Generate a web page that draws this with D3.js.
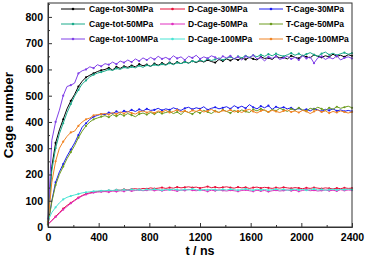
<!DOCTYPE html>
<html>
<head>
<meta charset="utf-8">
<script src="https://cdn.jsdelivr.net/npm/d3@7"></script>
<style>
  body { margin: 0; background: #fff; }
  text { font-family: "Liberation Sans", Arial, sans-serif; font-weight: bold; }
</style>
</head>
<body>
<script>
// time grid, one sample every 30 ns
var times = d3.range(0, 2401, 30);

var cageTot30 = [20,230,320,370,410,450,480,505,535,555,570,578,585,592,597,
  600,606,598,610,604,612,608,615,610,620,614,618,612,622,616,624,
  618,626,620,628,622,630,624,632,626,634,628,636,630,626,638,632,
  640,634,642,636,644,638,646,640,636,648,642,644,638,650,644,646,
  640,652,646,642,654,648,644,656,650,646,652,648,658,650,654,648,
  656,652];
var cageTot50 = [15,215,300,355,395,435,468,498,522,545,558,572,580,586,590,
  594,600,596,604,600,608,604,610,606,614,608,616,612,618,614,620,
  616,624,618,626,622,628,624,632,628,636,630,640,634,638,644,636,
  642,648,640,650,644,652,646,654,648,656,650,658,652,660,654,650,
  656,662,654,660,652,658,664,656,650,660,666,656,662,654,660,664,
  658,662];
var cageTot100 = [30,330,400,445,500,535,540,548,585,595,600,610,605,618,612,
  622,618,628,620,632,626,636,628,640,632,644,636,646,638,650,640,
  646,638,652,642,648,636,650,644,654,640,648,642,652,646,638,650,
  644,652,640,648,636,650,644,654,640,646,632,648,642,650,638,644,
  650,640,646,636,652,642,648,624,644,650,638,646,640,652,636,644,
  648,642];
var dCage30 = [10,25,40,55,70,82,92,102,112,120,126,130,133,135,137,
  136,139,138,141,140,143,141,144,146,143,147,145,149,146,148,150,
  147,150,148,152,149,151,153,150,152,148,151,154,150,152,149,151,
  153,150,148,152,149,151,147,150,152,148,151,149,147,150,148,151,
  149,147,150,148,146,149,147,150,148,146,149,147,145,148,146,149,
  147,148];
var dCage50 = [12,24,38,52,66,78,90,100,110,118,124,128,131,133,134,
  135,133,137,135,138,136,140,137,139,141,138,140,142,139,141,138,
  140,142,139,137,141,139,143,140,138,141,139,136,140,138,141,139,
  137,140,138,136,139,141,138,136,140,137,139,135,138,140,137,139,
  141,138,140,136,139,142,138,140,137,139,141,138,140,137,142,139,
  141,140];
var dCage100 = [25,55,75,92,105,113,118,122,126,130,132,134,136,137,138,
  138,140,139,141,140,142,140,143,141,142,140,143,141,144,142,140,
  143,141,144,142,140,143,141,145,142,140,143,141,144,142,140,143,
  141,144,142,140,143,145,142,140,144,141,143,140,142,144,141,143,
  140,142,144,141,143,140,142,145,141,143,140,142,144,141,143,142,
  144,142];
var tCage30 = [10,100,170,210,240,270,295,320,350,380,395,410,420,425,430,
  428,436,432,440,434,442,438,446,440,448,442,450,444,446,452,444,
  450,446,454,448,444,452,456,448,454,450,458,446,452,456,450,454,
  458,450,462,454,460,452,466,456,450,460,454,462,448,458,452,456,
  450,454,446,452,444,448,442,450,446,440,448,444,450,442,446,440,
  444,440];
var tCage50 = [10,95,160,200,230,260,285,310,340,365,385,400,410,415,420,
  424,418,428,422,430,424,432,426,420,430,434,428,436,430,438,432,
  436,440,432,438,428,442,436,430,440,434,444,438,432,442,436,446,
  440,434,444,438,446,440,436,448,442,450,444,438,448,442,452,446,
  440,450,444,454,446,442,452,448,456,450,444,454,448,458,452,456,
  460,454];
var tCage100 = [20,170,250,300,325,345,360,365,385,400,410,415,425,428,430,
  432,428,436,430,438,432,440,434,430,438,442,436,440,434,442,438,
  444,436,440,446,438,442,436,444,440,446,438,442,448,440,436,444,
  440,446,438,442,436,444,448,440,434,442,446,438,444,440,436,442,
  446,438,442,436,444,440,432,440,446,438,442,434,440,436,442,438,
  434,438];

var names = ['Cage-tot-30MPa','D-Cage-30MPa','T-Cage-30MPa',
             'Cage-tot-50MPa','D-Cage-50MPa','T-Cage-50MPa',
             'Cage-tot-100MPa','D-Cage-100MPa','T-Cage-100MPa'];
var values = [cageTot30, dCage30, tCage30, cageTot50, dCage50, tCage50, cageTot100, dCage100, tCage100];
var colors = ['#000000','#e8103a','#1c1cf0','#1aaa8a','#e030c0','#6c9c1e','#8040e8','#48e4d4','#f08424'];

var xTicks = [0,400,800,1200,1600,2000,2400];
var yTicks = [0,100,200,300,400,500,600,700,800];

var width = 366, height = 256;
var plotLeft = 48, plotRight = 352, plotTop = 3, plotBottom = 227;

var svg = d3.select('body').append('svg')
  .attr('width', width)
  .attr('height', height);

var x = d3.scaleLinear().domain([0, 2400]).range([plotLeft, plotRight]);
var y = d3.scaleLinear().domain([0, 853]).range([plotBottom, plotTop]);

var series = names.map(function(n, i) {
  return { name: n, color: colors[i], pts: values[i].map(function(v, j) { return [times[j], v]; }) };
});

var line = d3.line()
  .x(function(d) { return x(d[0]); })
  .y(function(d) { return y(d[1]); });

var plot = svg.append('g');
series.forEach(function(s) {
  plot.append('path')
    .attr('d', line(s.pts))
    .attr('fill', 'none')
    .attr('stroke', s.color)
    .attr('stroke-width', 1);
  plot.selectAll(null)
    .data(s.pts.filter(function(d, j) { return j % 2 == 0; }))
    .enter().append('circle')
    .attr('cx', function(d) { return x(d[0]); })
    .attr('cy', function(d) { return y(d[1]); })
    .attr('r', 1.1)
    .attr('fill', s.color);
});

// frame
svg.append('rect')
  .attr('x', plotLeft).attr('y', plotTop)
  .attr('width', plotRight - plotLeft).attr('height', plotBottom - plotTop)
  .attr('fill', 'none')
  .attr('stroke', '#333')
  .attr('stroke-width', 1);

// axes with inward ticks
svg.append('g')
  .attr('transform', 'translate(0,' + plotBottom + ')')
  .call(d3.axisBottom(x).tickValues(xTicks).tickSizeInner(-4).tickSizeOuter(0).tickPadding(7).tickFormat(d3.format('d')));
svg.append('g')
  .attr('transform', 'translate(0,' + plotBottom + ')')
  .call(d3.axisBottom(x).tickValues([200,600,1000,1400,1800,2200]).tickSizeInner(-2).tickSizeOuter(0).tickFormat(''));
svg.append('g')
  .attr('transform', 'translate(' + plotLeft + ',0)')
  .call(d3.axisLeft(y).tickValues(yTicks).tickSizeInner(-4).tickSizeOuter(0).tickPadding(5).tickFormat(d3.format('d')));
svg.append('g')
  .attr('transform', 'translate(' + plotLeft + ',0)')
  .call(d3.axisLeft(y).tickValues([50,150,250,350,450,550,650,750,850]).tickSizeInner(-2).tickSizeOuter(0).tickFormat(''));

svg.selectAll('.domain').attr('stroke', '#333');
svg.selectAll('.tick line').attr('stroke', '#333');
svg.selectAll('.tick text')
  .attr('font-size', 10.5)
  .attr('font-weight', 'bold')
  .attr('font-family', '"Liberation Sans", Arial, sans-serif')
  .attr('fill', '#000');

svg.append('text')
  .attr('x', 200).attr('y', 254.5)
  .attr('text-anchor', 'middle')
  .attr('font-size', 12.5)
  .text('t / ns');

svg.append('text')
  .attr('transform', 'translate(12.5,115) rotate(-90)')
  .attr('text-anchor', 'middle')
  .attr('font-size', 13.5)
  .text('Cage number');

// legend, three columns
var colLine = [[61, 85], [160, 185], [259, 283]];
var colText = [89, 188, 286];
var rowY = [9, 24, 39];
series.forEach(function(s, i) {
  var row = Math.floor(i / 3), col = i % 3;
  var g = svg.append('g');
  g.append('line')
    .attr('x1', colLine[col][0]).attr('x2', colLine[col][1])
    .attr('y1', rowY[row]).attr('y2', rowY[row])
    .attr('stroke', s.color).attr('stroke-width', 1);
  g.append('circle')
    .attr('cx', (colLine[col][0] + colLine[col][1]) / 2)
    .attr('cy', rowY[row])
    .attr('r', 1.3)
    .attr('fill', s.color);
  g.append('text')
    .attr('x', colText[col]).attr('y', rowY[row] + 3)
    .attr('font-size', 8.5)
    .text(s.name);
});
</script>
</body>
</html>
